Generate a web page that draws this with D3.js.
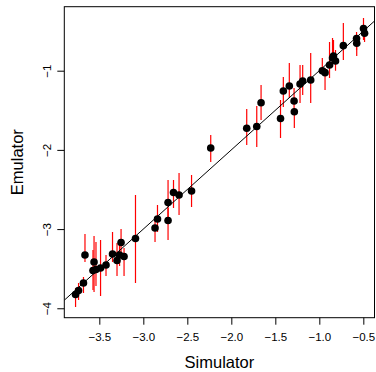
<!DOCTYPE html>
<html>
<head>
<meta charset="utf-8">
<script src="https://cdn.jsdelivr.net/npm/d3@7"></script>
<style>
  body { margin: 0; background: #fff; }
  text { font-family: "Liberation Sans", Arial, sans-serif; fill: #000; }
</style>
</head>
<body>
<div class="chart"></div>
<script>
// simulator vs emulator, with red error bars

const simulator = [-3.770, -3.736, -3.680, -3.663, -3.572, -3.560, -3.538, -3.486, -3.424, -3.350,
  -3.299, -3.253, -3.270, -3.219, -3.089, -2.867, -2.839, -2.719, -2.719, -2.657,
  -2.594, -2.452, -2.234, -1.825, -1.711, -1.662, -1.441, -1.409, -1.341, -1.287,
  -1.284, -1.219, -1.189, -1.098, -0.966, -0.935, -0.884, -0.850, -0.839, -0.816,
  -0.727, -0.577, -0.575, -0.498, -0.486]
const emulator = [-3.826, -3.775, -3.681, -3.327, -3.523, -3.415, -3.510, -3.491, -3.453, -3.314,
  -3.396, -3.169, -3.327, -3.346, -3.119, -2.986, -2.872, -2.664, -2.891, -2.538,
  -2.569, -2.519, -1.976, -1.727, -1.705, -1.404, -1.604, -1.256, -1.193, -1.383,
  -1.518, -1.168, -1.130, -1.117, -1.000, -1.025, -0.928, -0.840, -0.814, -0.878,
  -0.684, -0.593, -0.654, -0.467, -0.528]
const upper = [-3.744, -3.681, -3.605, -3.062, -3.264, -3.087, -3.163, -3.138, -3.327, -3.037,
  -3.176, -2.999, -3.163, -3.239, -2.569, -2.860, -2.696, -2.380, -2.733, -2.380,
  -2.292, -2.317, -1.812, -1.484, -1.446, -1.181, -1.370, -1.080, -0.903, -1.218,
  -1.471, -0.928, -0.928, -0.777, -0.840, -0.966, -0.638, -0.587, -0.612, -0.739,
  -0.398, -0.511, -0.612, -0.335, -0.486]
const lower = [-3.984, -3.895, -3.807, -3.415, -3.769, -3.794, -3.718, -3.845, -3.592, -3.415,
  -3.592, -3.289, -3.466, -3.592, -3.681, -3.163, -3.037, -2.910, -3.138, -2.734,
  -2.822, -2.721, -2.153, -1.938, -1.963, -1.622, -1.850, -1.458, -1.345, -1.547,
  -1.723, -1.408, -1.307, -1.408, -1.042, -1.244, -1.092, -0.953, -0.865, -1.000,
  -0.865, -0.739, -0.814, -0.612, -0.638]

const xTicks = [-3.5, -3.0, -2.5, -2.0, -1.5, -1.0, -0.5]
const yTicks = [-4, -3, -2, -1]

const fullWidth = 376
const fullHeight = 372
const margin = { top: 6.7, right: 1.5, bottom: 54.3, left: 64.3 }
const width = fullWidth - margin.left - margin.right
const height = fullHeight - margin.top - margin.bottom

const data = simulator.map((s, i) => ({ x: s, y: emulator[i], lo: lower[i], hi: upper[i] }))

const svg = d3.select('.chart')
  .append('svg')
    .attr('width', fullWidth)
    .attr('height', fullHeight)
  .append('g')
    .attr('transform', `translate(${margin.left}, ${margin.top})`)

const xScale = d3.scaleLinear()
  .domain([-3.898, -0.373])
  .range([0, width])
const yScale = d3.scaleLinear()
  .domain([-4.119, -0.192])
  .range([height, 0])

const fmtX = d => d3.format('.1f')(d).replace('-', '\u2212')
const fmtY = d => String(d).replace('-', '\u2212')

// x axis
const xAxis = svg.append('g')
  .attr('transform', `translate(0, ${height})`)
  .call(d3.axisBottom(xScale).tickValues(xTicks).tickFormat(fmtX).tickSize(7).tickPadding(8))
xAxis.select('.domain').remove()
xAxis.selectAll('text').style('font-size', '11.5px')
xAxis.selectAll('line').attr('stroke', '#000')

// y axis
const yAxis = svg.append('g')
  .call(d3.axisLeft(yScale).tickValues(yTicks).tickFormat(fmtY).tickSize(7))
yAxis.select('.domain').remove()
yAxis.selectAll('line').attr('stroke', '#000')
yAxis.selectAll('text')
  .attr('x', null).attr('dy', null)
  .style('font-size', '11.5px')
  .attr('text-anchor', 'middle')
  .attr('transform', 'translate(-17, 0) rotate(-90)')
  .attr('dy', '0.35em')

// clip for marks
svg.append('clipPath').attr('id', 'clip')
  .append('rect').attr('width', width).attr('height', height)
const plot = svg.append('g').attr('clip-path', 'url(#clip)')

// error bars
plot.selectAll('line.err')
  .data(data)
  .enter()
  .append('line')
    .attr('class', 'err')
    .attr('x1', d => xScale(d.x))
    .attr('x2', d => xScale(d.x))
    .attr('y1', d => yScale(d.lo))
    .attr('y2', d => yScale(d.hi))
    .attr('stroke', '#ff0000')
    .attr('stroke-width', 1.2)

// points
plot.selectAll('circle')
  .data(data)
  .enter()
  .append('circle')
    .attr('cx', d => xScale(d.x))
    .attr('cy', d => yScale(d.y))
    .attr('r', 3.8)
    .attr('fill', '#000')

// y = x
const lo = -3.898, hi = -0.192
plot.append('line')
  .attr('x1', xScale(lo)).attr('y1', yScale(lo))
  .attr('x2', xScale(hi)).attr('y2', yScale(hi))
  .attr('stroke', '#000')
  .attr('stroke-width', 1)

// box
svg.append('rect')
  .attr('width', width)
  .attr('height', height)
  .attr('fill', 'none')
  .attr('stroke', '#000')
  .attr('stroke-width', 1)

// titles
svg.append('text')
  .attr('x', width / 2)
  .attr('y', height + 50.5)
  .attr('text-anchor', 'middle')
  .style('font-size', '16.5px')
  .text('Simulator')

svg.append('text')
  .attr('transform', `translate(${-margin.left + 22.5}, ${height / 2}) rotate(-90)`)
  .attr('text-anchor', 'middle')
  .style('font-size', '16.5px')
  .text('Emulator')
</script>
</body>
</html>
